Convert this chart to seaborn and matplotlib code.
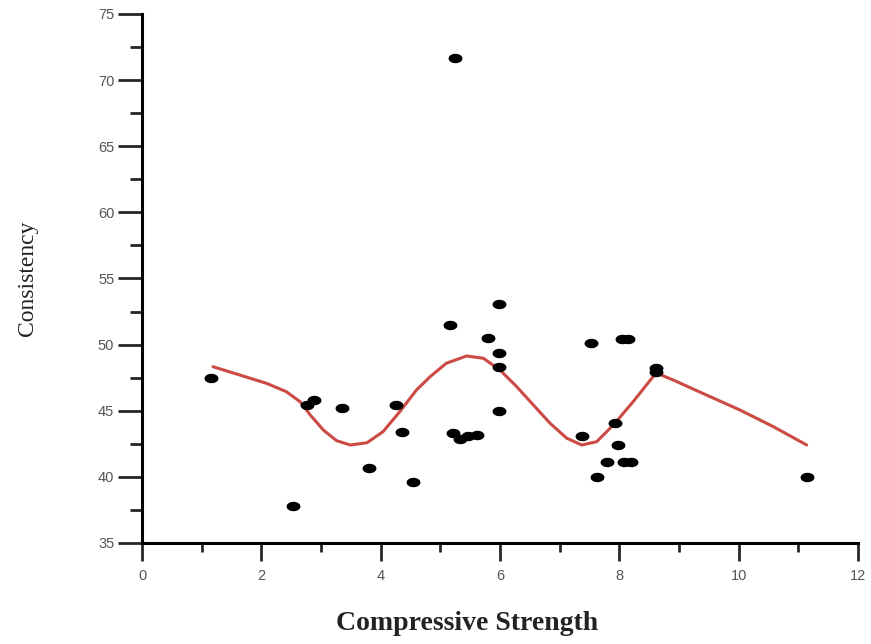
import numpy as np
import pandas as pd
import matplotlib
matplotlib.use("Agg")
import matplotlib.pyplot as plt
from matplotlib.path import Path
from matplotlib.ticker import MultipleLocator
import seaborn as sns

# ---- data ----
strength = [1.16, 2.53, 2.76, 2.88, 3.35, 4.26, 4.35, 3.80, 4.54, 5.25,
            5.17, 5.98, 5.80, 5.98, 5.98, 5.98, 5.22, 5.33, 5.47, 5.62,
            7.52, 8.05, 8.15, 8.61, 8.61, 7.37, 7.93, 7.98, 7.80, 8.07,
            8.19, 7.63, 11.15]
consistency = [47.5, 37.8, 45.4, 45.8, 45.2, 45.4, 43.4, 40.7, 39.6, 71.7,
               51.5, 53.1, 50.5, 49.4, 48.3, 45.0, 43.3, 42.9, 43.1, 43.2,
               50.1, 50.4, 50.4, 48.2, 47.9, 43.1, 44.1, 42.4, 41.1, 41.1,
               41.1, 40.0, 40.0]

curve_x = [1.19, 1.64, 2.09, 2.42, 2.65, 2.82, 3.04, 3.26, 3.49, 3.77,
           4.04, 4.32, 4.60, 4.83, 5.10, 5.44, 5.72, 6.00, 6.28, 6.56,
           6.84, 7.12, 7.37, 7.62, 7.90, 8.23, 8.57, 8.66, 8.90, 9.46,
           10.02, 10.58, 11.14]
curve_y = [48.33, 47.70, 47.07, 46.44, 45.68, 44.68, 43.54, 42.74, 42.41, 42.58,
           43.42, 44.93, 46.57, 47.58, 48.59, 49.14, 48.97, 48.08, 46.82, 45.43,
           44.05, 42.92, 42.41, 42.66, 43.92, 45.68, 47.60, 47.78, 47.33, 46.19,
           45.06, 43.80, 42.41]

x_ticks = [0, 2, 4, 6, 8, 10, 12]
y_ticks = [35, 40, 45, 50, 55, 60, 65, 70, 75]

pts = pd.DataFrame({"Compressive Strength": strength, "Consistency": consistency})
fit = pd.DataFrame({"x": curve_x, "y": curve_y})

sns.set_theme(style="ticks")
plt.rcParams["font.family"] = ["Liberation Sans", "DejaVu Sans"]

fig = plt.figure(figsize=(8.71, 6.44), dpi=100)
ax = fig.add_axes([142 / 871, 1 - 543 / 644, (858 - 142) / 871, (543 - 14) / 644])

t = np.linspace(0, 2 * np.pi, 40)
ellipse = Path(np.column_stack([np.cos(t), 0.68 * np.sin(t)]), closed=True)

sns.lineplot(data=fit, x="x", y="y", sort=False, ax=ax, color="#cc4a44",
             linewidth=2.2, zorder=2)
sns.scatterplot(data=pts, x="Compressive Strength", y="Consistency", ax=ax,
                marker=ellipse, s=100, color="black", edgecolor="black",
                linewidth=0, zorder=3)

ax.set_xlim(0, 12)
ax.set_ylim(35, 75)
ax.set_xticks(x_ticks)
ax.set_yticks(y_ticks)
ax.xaxis.set_minor_locator(MultipleLocator(1))
ax.yaxis.set_minor_locator(MultipleLocator(2.5))

for side in ["top", "right"]:
    ax.spines[side].set_visible(False)
for side in ["left", "bottom"]:
    ax.spines[side].set_linewidth(2.2)
    ax.spines[side].set_color("black")

ax.tick_params(axis="y", which="major", length=17, width=2.0, direction="out",
               labelsize=10.5, labelcolor="#555555", pad=3)
ax.tick_params(axis="y", which="minor", length=9, width=2.0, direction="out")
ax.tick_params(axis="x", which="major", length=13, width=2.0, direction="out",
               labelsize=10.5, labelcolor="#555555", pad=6)
ax.tick_params(axis="x", which="minor", length=6.5, width=2.0, direction="out")

ax.set_xlabel("Compressive Strength", family=["Liberation Serif"], fontsize=20,
              fontweight="bold", color="#222222")
ax.xaxis.set_label_coords(0.454, -0.128)
ax.set_ylabel("Consistency", family=["Liberation Serif"], fontsize=17,
              color="#222222", labelpad=43)

fig.savefig("out.png", dpi=100, facecolor="white")
